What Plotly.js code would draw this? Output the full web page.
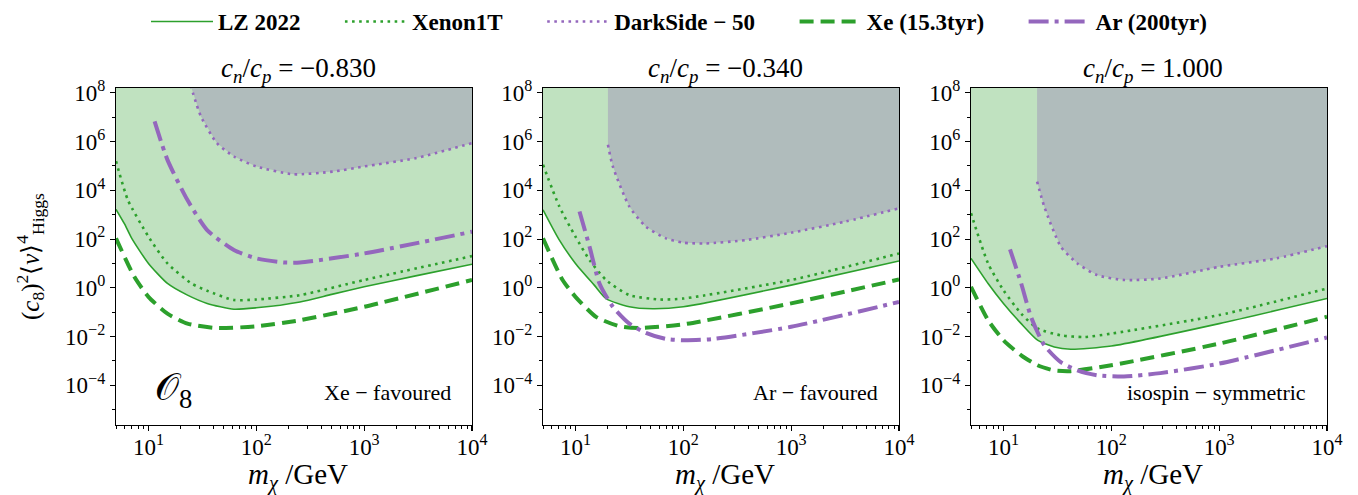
<!DOCTYPE html>
<html>
<head>
<meta charset="utf-8">
<script src="https://cdn.plot.ly/plotly-3.0.1.min.js"></script>
<style>html,body{margin:0;padding:0;background:#fff;}#plot{width:1358px;height:495px;}</style>
</head>
<body>
<div id="plot"></div>
<script>
// ---------------- data ----------------
const panelTitles = ["<i>c<sub>n</sub></i>/<i>c<sub>p</sub></i> = −0.830",
                     "<i>c<sub>n</sub></i>/<i>c<sub>p</sub></i> = −0.340",
                     "<i>c<sub>n</sub></i>/<i>c<sub>p</sub></i> = 1.000"];
const panelNotes = ["Xe − favoured", "Ar − favoured", "isospin − symmetric"];
const seriesNames = ["LZ 2022", "Xenon1T", "DarkSide − 50", "Xe (15.3tyr)", "Ar (200tyr)"];
const xTickVals = [10, 100, 1000, 10000];
const xTickText = ["10<sup>1</sup>", "10<sup>2</sup>", "10<sup>3</sup>", "10<sup>4</sup>"];
const yTickVals = [1e-4, 1e-2, 1, 1e2, 1e4, 1e6, 1e8];
const yTickText = ["10<sup>−4</sup>", "10<sup>−2</sup>", "10<sup>0</sup>", "10<sup>2</sup>", "10<sup>4</sup>", "10<sup>6</sup>", "10<sup>8</sup>"];

// Panel 1: cn/cp = -0.830
const lz1_x  = [5, 6, 7, 10, 15, 23, 35, 62, 100, 254, 500, 1000, 3000, 10000];
const lz1_y  = [1660, 417, 107, 10, 1.51, 0.50, 0.229, 0.132, 0.151, 0.263, 0.537, 1.10, 3.09, 9.33];
const x1t1_x = [5, 6.45, 10, 15, 25, 35, 62, 100, 254, 1000, 10000];
const x1t1_y = [1.58e5, 3980, 126, 10, 1.51, 0.759, 0.316, 0.331, 0.501, 2.09, 20.0];
const ds1_x  = [24.6, 30.6, 43, 62, 100, 220, 515, 1000, 3000, 10000];
const ds1_y  = [2.0e8, 1.1e7, 8.7e5, 2.45e5, 9.55e4, 4.57e4, 5.89e4, 9.55e4, 2.09e5, 8.71e5];
const xe1_x  = [5, 7.4, 10, 15, 23, 43, 100, 254, 1000, 10000];
const xe1_y  = [107, 2.82, 0.427, 0.0871, 0.0339, 0.0224, 0.0263, 0.0468, 0.166, 2.09];
const ar1_x  = [11.4, 15, 23, 35, 62, 100, 178, 254, 1000, 10000];
const ar1_y  = [6.76e6, 1.78e5, 3980, 234, 35.5, 16.2, 11.0, 11.0, 25.7, 200];

// Panel 2: cn/cp = -0.340
const lz2_x  = [5, 7, 10, 15, 19.2, 31.6, 52, 100, 1000, 10000];
const lz2_y  = [1585, 100, 10, 1.26, 0.363, 0.166, 0.138, 0.166, 1.29, 12.6];
const x1t2_x = [5, 7.1, 10, 13.5, 19.2, 31.6, 60, 100, 1000, 10000];
const x1t2_y = [1.12e5, 2140, 126, 13.8, 2.09, 0.501, 0.331, 0.363, 2.09, 25.7];
const ds2_x  = [20, 22.2, 31.6, 45, 69, 100, 162, 380, 1000, 3200, 10000];
const ds2_y  = [7.41e5, 9.55e4, 2140, 324, 107, 70.8, 66.1, 91.2, 182, 525, 1820];
const xe2_x  = [5, 7.6, 10, 15.5, 25.6, 39, 100, 1000, 10000];
const xe2_y  = [107, 2.09, 0.427, 0.0646, 0.0263, 0.0224, 0.0316, 0.229, 2.19];
const ar2_x  = [10.9, 13.5, 16.7, 22.2, 31.6, 45, 69, 100, 187, 1000, 10000];
const ar2_y  = [1350, 49.0, 1.51, 0.166, 0.0339, 0.0141, 0.00794, 0.00708, 0.00794, 0.0251, 0.263];

// Panel 3: cn/cp = 1.000
const lz3_x  = [5, 7.2, 10, 14.6, 20.7, 29.6, 42, 100, 1000, 10000];
const lz3_y  = [16.2, 1.51, 0.229, 0.0339, 0.00708, 0.00372, 0.00302, 0.00407, 0.0339, 0.363];
const x1t3_x = [5, 7.2, 10, 14.6, 20.7, 34, 56, 100, 1000, 10000];
const x1t3_y = [1150, 10, 0.794, 0.0871, 0.0214, 0.0112, 0.00955, 0.0132, 0.0759, 0.933];
const ds3_x  = [20.5, 23.9, 34, 48.5, 74, 131, 285, 1000, 3400, 10000];
const ds3_y  = [2.29e4, 2140, 49.0, 10, 3.31, 2.09, 2.40, 7.24, 16.2, 51.3];
const xe3_x  = [5, 7.2, 10, 14.6, 20.7, 29.6, 42, 100, 1000, 10000];
const xe3_y  = [1.10, 0.0468, 0.00708, 0.0017, 0.000661, 0.000407, 0.00038, 0.000661, 0.00513, 0.0646];
const ar3_x  = [11.5, 14.6, 18, 23.9, 34, 48.5, 74, 131, 285, 1000, 10000];
const ar3_y  = [38.0, 1.51, 0.0646, 0.00437, 0.000891, 0.000407, 0.000257, 0.000229, 0.000316, 0.000776, 0.00912];

const yTop = 1e10; // beyond the top of the axis; closes the excluded regions

// ---------------- styling ----------------
const GREEN = "#2ca02c", PURPLE = "#9467bd";
const FILL_GREEN = "#c0e2c0", FILL_GRAY = "#b0bcbc";
const FONT = "Liberation Serif";
const W = 1358, H = 495;
const px = v => v / W, py = v => 1 - v / H;
const xDom = [[116, 472], [543, 899], [971, 1327]];
const yDom = [py(425), py(88)];
const PAD = "\u00A0".repeat(6);
const legendLabel = (s, k) => "<b>" + s + "</b>" + (k < seriesNames.length - 1 ? PAD : "");

// minor tick positions (axis decoration)
const xMinor = [], yMinor = [];
for (let e = 0; e <= 3; e++) for (let m = 2; m <= 9; m++) xMinor.push(m * Math.pow(10, e));
for (let e = -5; e <= 7; e += 2) yMinor.push(Math.pow(10, e));

const panels = [
  {lz:[lz1_x,lz1_y], x1t:[x1t1_x,x1t1_y], ds:[ds1_x,ds1_y], xe:[xe1_x,xe1_y], ar:[ar1_x,ar1_y]},
  {lz:[lz2_x,lz2_y], x1t:[x1t2_x,x1t2_y], ds:[ds2_x,ds2_y], xe:[xe2_x,xe2_y], ar:[ar2_x,ar2_y]},
  {lz:[lz3_x,lz3_y], x1t:[x1t3_x,x1t3_y], ds:[ds3_x,ds3_y], xe:[xe3_x,xe3_y], ar:[ar3_x,ar3_y]},
];

const traces = [];
const layout = {
  width: W, height: H,
  margin: {l: 0, r: 0, t: 0, b: 0},
  paper_bgcolor: "#fff", plot_bgcolor: "#fff",
  font: {family: FONT, color: "#000", size: 20},
  showlegend: true,
  legend: {orientation: "h", x: 0.5, xanchor: "center", y: 1.0, yanchor: "top",
           font: {family: FONT, size: 23, color: "#000"}, traceorder: "normal",
           itemwidth: 62, tracegroupgap: 0},
  annotations: [],
};

panels.forEach((p, i) => {
  const n = i + 1;
  const xa = "x" + (n === 1 ? "" : n), ya = "y" + (n === 1 ? "" : n);
  const spline = {shape: "spline", smoothing: 0.6};
  traces.push({x: p.lz[0].concat([p.lz[0][p.lz[0].length-1], p.lz[0][0]]),
               y: p.lz[1].concat([yTop, yTop]),
               xaxis: xa, yaxis: ya, mode: "lines", fill: "toself", fillcolor: FILL_GREEN,
               line: {width: 0, color: FILL_GREEN}, hoverinfo: "skip", showlegend: false});
  traces.push({x: p.ds[0].concat([p.ds[0][p.ds[0].length-1], p.ds[0][0]]),
               y: p.ds[1].concat([yTop, yTop]),
               xaxis: xa, yaxis: ya, mode: "lines", fill: "toself", fillcolor: FILL_GRAY,
               line: {width: 0, color: FILL_GRAY}, hoverinfo: "skip", showlegend: false});
  const lines = [
    {d: p.lz,  line: {color: GREEN,  width: 1.6, dash: "solid"}},
    {d: p.x1t, line: {color: GREEN,  width: 2.6, dash: "2.6px,4.5px"}},
    {d: p.ds,  line: {color: PURPLE, width: 2.6, dash: "2.6px,4.5px"}},
    {d: p.xe,  line: {color: GREEN,  width: 4,   dash: "14px,7px"}},
    {d: p.ar,  line: {color: PURPLE, width: 4,   dash: "20px,6px,4px,6px"}},
  ];
  lines.forEach((l, k) => {
    traces.push({x: l.d[0], y: l.d[1], xaxis: xa, yaxis: ya, mode: "lines", name: legendLabel(seriesNames[k], k),
                 line: Object.assign({}, l.line, spline), showlegend: i === 0, hoverinfo: "skip"});
  });

  const axCommon = {type: "log", showgrid: false, zeroline: false, showline: true, linecolor: "#000",
                    linewidth: 1.2, mirror: true, ticks: "outside", ticklen: 5, tickwidth: 1.1,
                    tickcolor: "#000", automargin: false, tickmode: "array",
                    tickfont: {family: FONT, size: 23, color: "#000"}};
  layout["xaxis" + (n === 1 ? "" : n)] = Object.assign({}, axCommon, {
    domain: [px(xDom[i][0]), px(xDom[i][1])], anchor: ya, range: [Math.log10(5), 4],
    tickvals: xTickVals, ticktext: xTickText, ticklabelstandoff: -4,
    minor: {tickmode: "array", tickvals: xMinor, ticks: "outside", ticklen: 3, tickcolor: "#000", tickwidth: 1}});
  layout["yaxis" + (n === 1 ? "" : n)] = Object.assign({}, axCommon, {
    domain: yDom, anchor: xa, range: [-5.63, 8.2],
    tickvals: yTickVals, ticktext: yTickText,
    minor: {tickmode: "array", tickvals: yMinor, ticks: "outside", ticklen: 3, tickcolor: "#000", tickwidth: 1}});

  const cx = (xDom[i][0] + xDom[i][1]) / 2;
  layout.annotations.push({text: panelTitles[i], xref: "paper", yref: "paper", x: px(cx), y: py(70),
                           showarrow: false, xanchor: "center", yanchor: "middle", xshift: 4,
                           font: {family: FONT, size: 27}});
  layout.annotations.push({text: "<i>m<sub>χ</sub></i> /GeV", xref: "paper", yref: "paper",
                           x: px(cx), y: py(476), showarrow: false, xanchor: "center", yanchor: "middle",
                           xshift: 4, font: {family: FONT, size: 29}});
  layout.annotations.push({text: panelNotes[i], xref: "paper", yref: "paper",
                           x: px(xDom[i][1] - 19), y: py(392), showarrow: false, xanchor: "right",
                           yanchor: "middle", font: {family: FONT, size: 22}});
});

layout.annotations.push({text: "(<i>c</i><sub>8</sub>)<sup>2</sup>⟨<i>v</i>⟩<sup>4</sup><sub>Higgs</sub>",
                         xref: "paper", yref: "paper", x: px(30), y: py(257), textangle: -90,
                         showarrow: false, xanchor: "center", yanchor: "middle",
                         font: {family: FONT, size: 25}});
layout.annotations.push({text: "𝒪<sub>8</sub>", xref: "paper", yref: "paper", x: px(174), y: py(390),
                         showarrow: false, xanchor: "center", yanchor: "middle",
                         font: {family: FONT, size: 38}});

Plotly.newPlot("plot", traces, layout, {staticPlot: true, displayModeBar: false});
</script>
</body>
</html>
